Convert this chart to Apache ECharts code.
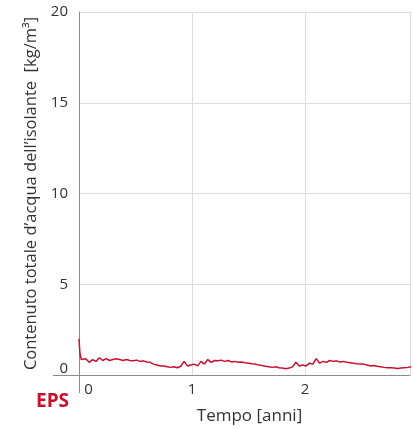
<!DOCTYPE html>
<html>
<head>
<meta charset="utf-8">
<script src="https://cdn.jsdelivr.net/npm/echarts@6/dist/echarts.min.js"></script>
<style>
  html, body { margin: 0; padding: 0; background: #fff; }
  #chart { width: 413px; height: 430px; }
</style>
</head>
<body>
<div id="chart"></div>
<script>
// Tempo [anni]
const tempo = [
  0, 0.008, 0.02, 0.03, 0.06, 0.09, 0.12, 0.15, 0.18, 0.21, 0.24, 0.27, 0.30, 0.33, 0.36, 0.39,
  0.42, 0.45, 0.48, 0.51, 0.54, 0.57, 0.60, 0.63, 0.66, 0.69, 0.72, 0.75, 0.78, 0.81, 0.84,
  0.87, 0.90, 0.93, 0.96, 0.99, 1.02, 1.05, 1.08, 1.11, 1.14, 1.17, 1.20, 1.23, 1.26, 1.29,
  1.32, 1.35, 1.38, 1.41, 1.44, 1.47, 1.50, 1.53, 1.56, 1.59, 1.62, 1.65, 1.68, 1.71, 1.74,
  1.77, 1.80, 1.83, 1.86, 1.89, 1.92, 1.95, 1.98, 2.01, 2.04, 2.07, 2.10, 2.13, 2.16, 2.19,
  2.22, 2.25, 2.28, 2.31, 2.34, 2.37, 2.40, 2.43, 2.46, 2.49, 2.52, 2.55, 2.58, 2.61, 2.64,
  2.67, 2.70, 2.73, 2.76, 2.79, 2.82, 2.85, 2.88, 2.91, 2.94
];

// Contenuto totale d'acqua, EPS [kg/m³]
const contenutoEPS = [
  2.0, 1.2, 0.85, 0.75, 0.9, 0.7, 0.85, 0.75, 0.95, 0.8, 0.9, 0.8, 0.85, 0.9, 0.85, 0.8,
  0.85, 0.8, 0.78, 0.82, 0.75, 0.78, 0.72, 0.7, 0.6, 0.55, 0.5, 0.5, 0.45, 0.42, 0.45,
  0.4, 0.48, 0.75, 0.5, 0.55, 0.6, 0.5, 0.75, 0.6, 0.85, 0.7, 0.8, 0.78, 0.82, 0.75,
  0.8, 0.72, 0.75, 0.7, 0.72, 0.68, 0.65, 0.62, 0.6, 0.55, 0.52, 0.48, 0.45, 0.42, 0.45,
  0.4, 0.38, 0.35, 0.38, 0.45, 0.7, 0.5, 0.55, 0.5, 0.65, 0.6, 0.9, 0.65, 0.75, 0.7,
  0.8, 0.75, 0.78, 0.72, 0.75, 0.7, 0.68, 0.65, 0.62, 0.6, 0.6, 0.55, 0.5, 0.52, 0.48,
  0.45, 0.42, 0.4, 0.4, 0.38, 0.36, 0.38, 0.4, 0.42, 0.45
];

const yTicks = [0, 5, 10, 15, 20];
const xTicks = [0, 1, 2];

const RED = '#c8102e';
const TEXT = '#333';
const FONT = '"Open Sans", "Noto Sans", sans-serif';

const chart = echarts.init(document.getElementById('chart'), null, { renderer: 'canvas' });

chart.setOption({
  animation: false,
  backgroundColor: '#fff',
  grid: { left: 79, top: 12, right: 0, bottom: 53, containLabel: false },
  xAxis: {
    type: 'value',
    min: 0,
    max: 2.93,
    interval: 1,
    name: 'Tempo [anni]',
    nameLocation: 'middle',
    nameGap: 33,
    nameTextStyle: { fontFamily: FONT, fontSize: 17, color: TEXT, padding: [0, 0, 0, 10] },
    axisLine: { show: true, lineStyle: { color: '#8c8c8c', width: 1 } },
    axisTick: { show: false },
    splitLine: { show: true, lineStyle: { color: '#dcdcdc', width: 1 } },
    axisLabel: {
      fontFamily: FONT, fontSize: 15, color: TEXT, margin: 7,
      formatter: v => (xTicks.includes(v) ? (v === 0 ? '{z|0}' : String(v)) : ''),
      rich: { z: { fontFamily: FONT, fontSize: 15, color: TEXT, padding: [0, 0, 0, 19] } }
    }
  },
  yAxis: {
    type: 'value',
    min: 0,
    max: 20,
    interval: 5,
    name: 'Contenuto totale d\u2019acqua dell\u2019isolante  [kg/m\u00b3]',
    nameLocation: 'middle',
    nameGap: 37,
    nameRotate: 90,
    nameTextStyle: { fontFamily: FONT, fontSize: 16.5, color: TEXT },
    axisLine: { show: true, lineStyle: { color: '#8c8c8c', width: 1 } },
    axisTick: { show: false },
    splitLine: { show: true, lineStyle: { color: '#dcdcdc', width: 1 } },
    axisLabel: {
      fontFamily: FONT, fontSize: 15, color: TEXT, margin: 11,
      formatter: v => (yTicks.includes(v) ? (v === 0 ? '{z|0}' : String(v)) : ''),
      rich: { z: { fontFamily: FONT, fontSize: 15, color: TEXT, padding: [0, 0, 12, 0] } }
    }
  },
  series: [{
    type: 'line',
    data: tempo.map((t, i) => [t, contenutoEPS[i]]),
    showSymbol: false,
    lineStyle: { color: RED, width: 1.5 },
    z: 5
  }]
});

// Axis line extensions past the origin and the material label
const o = chart.convertToPixel({ gridIndex: 0 }, [0, 0]);
chart.setOption({
  graphic: [
    { type: 'line', shape: { x1: 53, y1: o[1] + 0.5, x2: o[0], y2: o[1] + 0.5 },
      style: { stroke: '#8c8c8c', lineWidth: 1 }, silent: true },
    { type: 'line', shape: { x1: o[0] + 0.5, y1: o[1], x2: o[0] + 0.5, y2: o[1] + 18 },
      style: { stroke: '#8c8c8c', lineWidth: 1 }, silent: true },
    { type: 'text', left: 36, top: o[1] + 17,
      style: { text: 'EPS', fill: RED, font: 'bold 19px ' + FONT } }
  ]
});
</script>
</body>
</html>
